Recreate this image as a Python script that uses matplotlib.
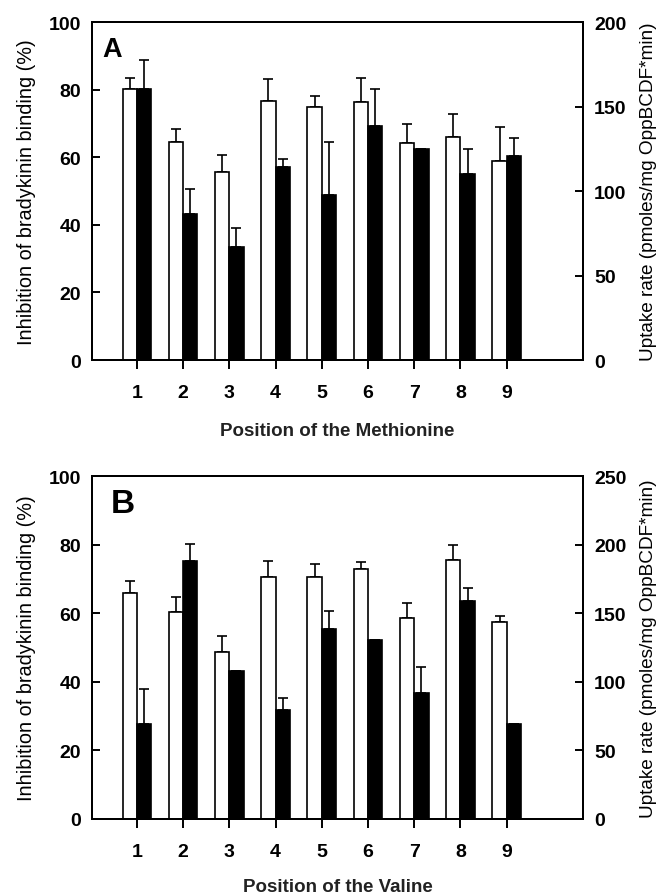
import numpy as np
import matplotlib
matplotlib.use("Agg")
import matplotlib.pyplot as plt

plt.rcParams["font.family"] = ["Liberation Sans", "DejaVu Sans"]

positions = [1, 2, 3, 4, 5, 6, 7, 8, 9]

# Panel A: methionine scan
met_inhibition = [80.2, 64.6, 55.6, 76.6, 74.9, 76.4, 64.3, 65.9, 58.8]
met_inhibition_err = [3.2, 3.7, 5.1, 6.4, 3.1, 7.0, 5.5, 7.0, 10.2]
met_uptake = [160.4, 86.6, 66.7, 114.0, 97.6, 138.2, 124.6, 110.0, 120.8]
met_uptake_err = [17.4, 14.4, 11.4, 5.0, 31.4, 22.4, 0.0, 15.0, 10.6]

# Panel B: valine scan
val_inhibition = [66.0, 60.5, 48.8, 70.5, 70.5, 72.8, 58.6, 75.4, 57.3]
val_inhibition_err = [3.5, 4.2, 4.7, 4.8, 3.9, 2.0, 4.3, 4.4, 2.0]
val_uptake = [69.6, 187.8, 108.0, 79.5, 138.8, 130.5, 92.2, 159.2, 69.6]
val_uptake_err = [25.0, 12.4, 0.0, 9.0, 12.7, 0.0, 18.3, 9.0, 0.0]

BAR_W = 0.31
LW = 1.4
TICK_FS = 14


def draw_panel(ax, letter, letter_pos, letter_fs, inhib, inhib_err, uptake, uptake_err,
               ymax_right, xlabel, xlabel_y):
    x = np.array(positions, dtype=float)
    ax.bar(x - BAR_W / 2, inhib, width=BAR_W, color="white", edgecolor="black",
           linewidth=1.2, zorder=2)
    ax.errorbar(x - BAR_W / 2, inhib, yerr=[np.zeros(len(x)), inhib_err], fmt="none",
                ecolor="black", elinewidth=1.2, capsize=3.5, capthick=1.2, zorder=1)
    ax.set_xlim(0.03, 10.65)
    ax.set_ylim(0, 100)
    ax.set_yticks([0, 20, 40, 60, 80, 100])
    ax.set_xticks(positions)
    ax.tick_params(axis="y", direction="in", length=6, width=LW, labelsize=TICK_FS, pad=8)
    ax.tick_params(axis="x", direction="out", length=6.5, width=LW, labelsize=TICK_FS, pad=11)
    for lab in ax.get_xticklabels() + ax.get_yticklabels():
        lab.set_fontweight("bold")
    ax.set_ylabel("Inhibition of bradykinin binding (%)", fontsize=14.3)
    ax.yaxis.set_label_coords(-0.134, 0.5)
    ax.yaxis.label.set_va("center")
    ax.set_xlabel(xlabel, fontsize=13.5, fontweight="bold", color="#222222")
    ax.xaxis.set_label_coords(0.5, xlabel_y)
    ax.xaxis.label.set_va("center")
    for sp in ax.spines.values():
        sp.set_linewidth(LW)
    ax.text(letter_pos[0], letter_pos[1], letter, transform=ax.transAxes,
            fontsize=letter_fs, fontweight="bold", va="top", ha="left")

    ax2 = ax.twinx()
    ax2.bar(x + BAR_W / 2, uptake, width=BAR_W, color="black", edgecolor="black",
            linewidth=1.2, zorder=2)
    ax2.errorbar(x + BAR_W / 2, uptake, yerr=[np.zeros(len(x)), uptake_err], fmt="none",
                 ecolor="black", elinewidth=1.2, capsize=3.5, capthick=1.2, zorder=1)
    ax2.set_ylim(0, ymax_right)
    ax2.set_yticks(np.arange(0, ymax_right + 1, 50))
    ax2.tick_params(axis="y", direction="in", length=6, width=LW, labelsize=TICK_FS, pad=8)
    for lab in ax2.get_yticklabels():
        lab.set_fontweight("bold")
    ax2.set_ylabel("Uptake rate (pmoles/mg OppBCDF*min)", fontsize=13.7)
    ax2.yaxis.set_label_coords(1.134, 0.5)
    ax2.yaxis.label.set_va("center")
    for sp in ax2.spines.values():
        sp.set_linewidth(LW)
    return ax2


fig = plt.figure(figsize=(6.59, 8.95), dpi=100)
ax_a = fig.add_axes([0.1396, 0.5966, 0.7451, 0.3777])
ax_b = fig.add_axes([0.1396, 0.0838, 0.7451, 0.3832])

draw_panel(ax_a, "A", (0.022, 0.96), 19.5, met_inhibition, met_inhibition_err,
           met_uptake, met_uptake_err, 200, "Position of the Methionine", -0.208)
draw_panel(ax_b, "B", (0.038, 0.965), 24, val_inhibition, val_inhibition_err,
           val_uptake, val_uptake_err, 250, "Position of the Valine", -0.197)

fig.savefig("out.png", dpi=100)
